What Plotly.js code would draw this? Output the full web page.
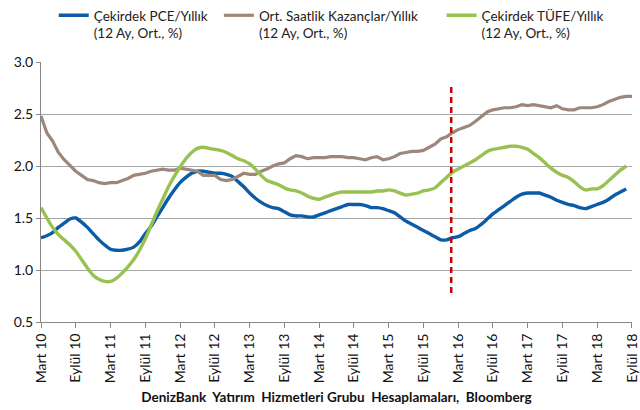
<!DOCTYPE html>
<html>
<head>
<meta charset="utf-8">
<script src="https://cdn.plot.ly/plotly-3.0.1.min.js"></script>
<style>html,body{margin:0;padding:0;background:#fff;}#chart{width:640px;height:410px;}</style>
</head>
<body>
<div id="chart"></div>
<script>
// Month index 0 = Mart 2010 ... 102 = Eylül 2018
var monthIndex = [];
for (var i = 0; i <= 102; i++) monthIndex.push(i);

var tickPositions = [0,6,12,18,24,30,36,42,48,54,60,66,72,78,84,90,96,102];
var tickLabels = ["Mart 10","Eylül 10","Mart 11","Eylül 11","Mart 12","Eylül 12","Mart 13","Eylül 13","Mart 14","Eylül 14","Mart 15","Eylül 15","Mart 16","Eylül 16","Mart 17","Eylül 17","Mart 18","Eylül 18"];

var corePCE = [1.31,1.33,1.36,1.41,1.45,1.49,1.50,1.46,1.41,1.35,1.29,1.24,1.20,1.19,1.19,1.20,1.22,1.27,1.35,1.42,
1.51,1.60,1.69,1.77,1.84,1.89,1.93,1.95,1.95,1.94,1.93,1.93,1.92,1.90,1.85,1.80,1.74,1.69,1.65,1.62,
1.60,1.59,1.56,1.53,1.52,1.52,1.51,1.51,1.53,1.55,1.57,1.59,1.61,1.63,1.63,1.63,1.62,1.60,1.60,1.59,
1.57,1.55,1.51,1.47,1.44,1.41,1.38,1.35,1.32,1.29,1.29,1.31,1.32,1.35,1.38,1.40,1.44,1.49,1.54,1.58,
1.62,1.66,1.70,1.73,1.74,1.74,1.74,1.72,1.70,1.67,1.65,1.63,1.62,1.60,1.59,1.61,1.63,1.65,1.68,1.72,
1.75,1.78,null];

var hourlyEarnings = [2.48,2.32,2.24,2.13,2.06,2.00,1.95,1.91,1.87,1.86,1.84,1.83,1.84,1.84,1.86,1.88,1.91,1.92,1.93,1.95,
1.96,1.97,1.96,1.96,1.98,1.97,1.96,1.95,1.91,1.91,1.91,1.87,1.86,1.87,1.90,1.93,1.92,1.92,1.95,1.97,
2.00,2.02,2.03,2.07,2.10,2.09,2.07,2.08,2.08,2.08,2.09,2.09,2.09,2.08,2.08,2.07,2.06,2.08,2.09,2.06,
2.07,2.09,2.12,2.13,2.14,2.14,2.15,2.18,2.21,2.26,2.28,2.32,2.35,2.37,2.39,2.43,2.48,2.52,2.54,2.55,
2.56,2.56,2.57,2.59,2.58,2.59,2.58,2.57,2.56,2.58,2.55,2.54,2.54,2.56,2.56,2.56,2.57,2.59,2.62,2.64,
2.66,2.67,2.67];

var coreCPI = [1.60,1.50,1.41,1.34,1.29,1.24,1.18,1.10,1.02,0.95,0.91,0.89,0.89,0.92,0.97,1.03,1.10,1.19,1.30,1.43,
1.56,1.68,1.80,1.90,1.99,2.07,2.13,2.17,2.18,2.17,2.16,2.15,2.13,2.10,2.07,2.05,2.02,1.97,1.91,1.86,
1.84,1.82,1.79,1.77,1.76,1.74,1.71,1.69,1.68,1.70,1.72,1.74,1.75,1.75,1.75,1.75,1.75,1.75,1.76,1.76,
1.77,1.76,1.74,1.72,1.73,1.74,1.76,1.77,1.79,1.84,1.89,1.94,1.97,2.00,2.03,2.06,2.10,2.14,2.16,2.17,
2.18,2.19,2.19,2.18,2.16,2.12,2.08,2.03,1.98,1.94,1.91,1.89,1.85,1.80,1.77,1.78,1.78,1.81,1.86,1.91,
1.96,2.00,null];

var seriesNames = ["Çekirdek PCE/Yıllık<br>(12 Ay, Ort., %)","Ort. Saatlik Kazançlar/Yıllık<br>(12 Ay, Ort., %)","Çekirdek TÜFE/Yıllık<br>(12 Ay, Ort., %)"];

var refLineX = [70.8, 70.8];
var refLineY = [0.78, 2.79];

var fontFam = "Lato, 'Open Sans', 'DejaVu Sans', sans-serif";

var traces = [
  {x: monthIndex, y: corePCE, name: seriesNames[0], type: 'scatter', mode: 'lines',
   line: {color: '#0B5CA6', width: 3.4, shape: 'spline', smoothing: 0.6}, legend: 'legend', connectgaps: false},
  {x: monthIndex, y: hourlyEarnings, name: seriesNames[1], type: 'scatter', mode: 'lines',
   line: {color: '#9D877B', width: 3.2}, legend: 'legend2'},
  {x: monthIndex, y: coreCPI, name: seriesNames[2], type: 'scatter', mode: 'lines',
   line: {color: '#98C152', width: 3.4, shape: 'spline', smoothing: 0.6}, legend: 'legend3', connectgaps: false},
  {x: refLineX, y: refLineY, type: 'scatter', mode: 'lines', showlegend: false, hoverinfo: 'skip',
   line: {color: '#CC0000', width: 2.5, dash: '6px,4px'}}
];

var legendCommon = {orientation: 'h', xref: 'container', yref: 'container', yanchor: 'top', xanchor: 'left',
  font: {family: fontFam, size: 13.5, color: '#222'}, bgcolor: 'rgba(0,0,0,0)', itemwidth: 30, tracegroupgap: 0,
  valign: 'top'};

var layout = {
  width: 640, height: 410,
  margin: {l: 41, r: 8, t: 62, b: 88},
  paper_bgcolor: '#fff', plot_bgcolor: '#fff',
  font: {family: fontFam, size: 12, color: '#222'},
  showlegend: true,
  legend: Object.assign({}, legendCommon, {x: 0.084, y: 1.0}),
  legend2: Object.assign({}, legendCommon, {x: 0.342, y: 1.0}),
  legend3: Object.assign({}, legendCommon, {x: 0.690, y: 1.0}),
  xaxis: {
    range: [-0.001, 102.001], tickmode: 'array', tickvals: tickPositions, ticktext: tickLabels,
    tickangle: -90, ticks: 'outside', ticklen: 5, tickcolor: '#888', showgrid: false,
    showline: true, linecolor: '#888', linewidth: 1, zeroline: false, automargin: false,
    ticklabeloverflow: 'allow',
    tickfont: {family: fontFam, size: 14, color: '#111'},
    title: {text: '<b>DenizBank  Yatırım  Hizmetleri Grubu  Hesaplamaları,  Bloomberg</b>',
            font: {family: fontFam, size: 13.5, color: '#111'}, standoff: 10}
  },
  yaxis: {
    range: [0.5, 3.0], dtick: 0.5, tick0: 0.5, tickformat: '.1f', ticks: 'outside', ticklen: 4,
    tickcolor: '#888', showgrid: true, gridcolor: '#A6A6A6', gridwidth: 1, showline: true,
    linecolor: '#888', linewidth: 1, zeroline: false, automargin: false,
    tickfont: {family: fontFam, size: 14, color: '#111'}
  }
};

Plotly.newPlot('chart', traces, layout, {staticPlot: true, displayModeBar: false});
</script>
</body>
</html>
